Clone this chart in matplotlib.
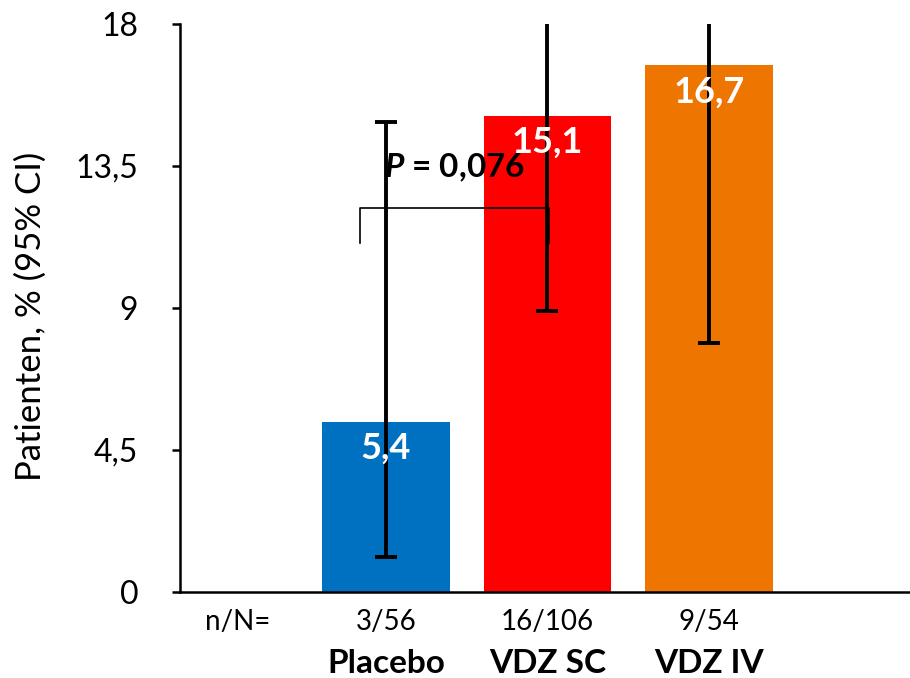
import matplotlib
matplotlib.use("Agg")
import matplotlib.pyplot as plt

plt.rcParams['font.family'] = ['Lato', 'DejaVu Sans']
plt.rcParams['mathtext.fontset'] = 'custom'
plt.rcParams['mathtext.bfit'] = 'Lato:italic:bold'

groups = ['Placebo', 'VDZ SC', 'VDZ IV']
counts = ['3/56', '16/106', '9/54']
values = [5.4, 15.1, 16.7]
ci_low = [1.1, 8.9, 7.9]
ci_high = [14.9, 23.4, 29.3]
colors = ['#0070C0', '#FF0000', '#EE7600']
yticks = [0, 4.5, 9, 13.5, 18]

fig = plt.figure(figsize=(9.1, 6.78), dpi=100)
ax = fig.add_axes([0.1978, 0.1268, 0.8022, 0.8378])

x = [1, 2, 3]
ax.bar(x, values, width=0.79, color=colors, zorder=1)
err = [[v - lo for v, lo in zip(values, ci_low)],
       [hi - v for v, hi in zip(values, ci_high)]]
ax.errorbar(x, values, yerr=err, fmt='none', ecolor='black',
            elinewidth=2.8, capsize=8, capthick=2.8, zorder=3)

# value labels inside bars
for xi, v in zip(x, values):
    ax.text(xi, v - 0.85, f"{v:.1f}".replace('.', ','), ha='center', va='center',
            color='white', fontsize=26, fontweight='bold', zorder=4)

# significance bracket
ax.plot([0.84, 0.84, 2.01, 2.01], [11.06, 12.17, 12.17, 11.06],
        color='black', lw=1.2, zorder=2)
ax.text(1.427, 13.43, r'$\mathbfit{P}$ = 0,076', fontweight='bold', fontsize=24,
        ha='center', va='center', zorder=4)

ax.set_xlim(-0.2755, 4.245)
ax.set_ylim(0, 18)
ax.set_yticks(yticks)
ax.set_yticklabels([f"{t:g}".replace('.', ',') for t in yticks], fontsize=23)
ax.set_xticks([])
ax.set_ylabel('Patienten, % (95% CI)', fontsize=25)
ax.yaxis.set_label_coords(-0.204, 0.485)
ax.yaxis.label.set_verticalalignment('center')

for s in ['top', 'right']:
    ax.spines[s].set_visible(False)
for s in ['left', 'bottom']:
    ax.spines[s].set_linewidth(1.8)
ax.tick_params(axis='y', length=6, width=1.8, pad=24)

# n/N row and group names below the axis
trans = ax.get_xaxis_transform()
ax.text(0.08, -0.052, 'n/N=', transform=trans, ha='center', va='center', fontsize=20)
for xi, c, g in zip(x, counts, groups):
    ax.text(xi, -0.052, c, transform=trans, ha='center', va='center', fontsize=20)
    ax.text(xi, -0.125, g, transform=trans, ha='center', va='center',
            fontsize=24, fontweight='bold')

fig.savefig('out.png', dpi=100)
